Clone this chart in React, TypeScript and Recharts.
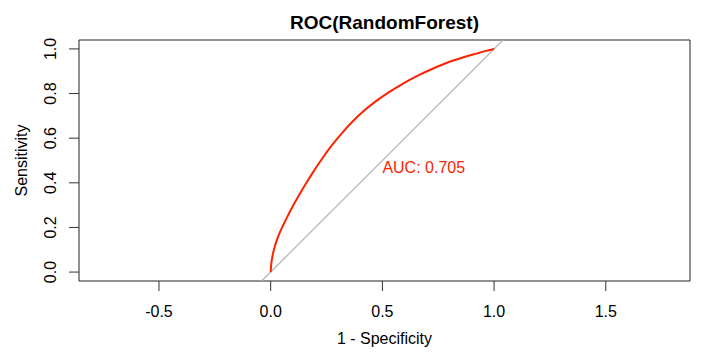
import { LineChart, Line, XAxis, YAxis, ReferenceArea, ReferenceDot } from "recharts";

// ROC curve points (1 - specificity, sensitivity)
const fpr = [0, 0.002, 0.006, 0.012, 0.02, 0.03, 0.042, 0.056, 0.072, 0.09, 0.11, 0.13, 0.16, 0.19, 0.23, 0.27, 0.32, 0.37, 0.42, 0.47, 0.52, 0.57, 0.62, 0.67, 0.72, 0.77, 0.82, 0.87, 0.92, 0.96, 1.0];
const tpr = [0, 0.03, 0.06, 0.09, 0.12, 0.15, 0.18, 0.21, 0.243, 0.278, 0.315, 0.35, 0.4, 0.448, 0.508, 0.563, 0.624, 0.678, 0.725, 0.765, 0.8, 0.831, 0.86, 0.886, 0.909, 0.93, 0.949, 0.965, 0.979, 0.99, 1.0];
const diagonal = [-0.04, 1.04];
const xTicks = [-0.5, 0, 0.5, 1, 1.5];
const yTicks = [0, 0.2, 0.4, 0.6, 0.8, 1];
const xDomain = [-0.858, 1.877];
const yDomain = [-0.04, 1.04];
const auc = "0.705";
const aucPos = [0.5, 0.5];

const rocData = fpr.map((x, i) => ({ x, y: tpr[i] }));
const diagData = diagonal.map(v => ({ x: v, y: v }));

const FONT = "'Liberation Sans', Arial, sans-serif";

const XTick = ({ x, y, payload }: any) => (
  <text x={x} y={y + 25.5} textAnchor="middle" fontSize={16} fontFamily={FONT} fill="#000">
    {payload.value.toFixed(1)}
  </text>
);

const YTick = ({ x, y, payload }: any) => (
  <text x={x - 12.5} y={y} textAnchor="middle" fontSize={16} fontFamily={FONT} fill="#000"
    transform={`rotate(-90, ${x - 12.5}, ${y})`}>
    {payload.value.toFixed(1)}
  </text>
);

export default function App() {
  return (
    <div style={{ position: "absolute", left: 0, top: 0, width: 727, height: 360, background: "#fff" }}>
      <svg width={727} height={40} style={{ position: "absolute", left: 0, top: 0 }}>
        <text x={384.5} y={28.5} textAnchor="middle" fontSize={19} fontWeight="bold" fontFamily={FONT} fill="#000">
          ROC(RandomForest)
        </text>
      </svg>
      <LineChart width={727} height={360} margin={{ top: 40, right: 37, left: 0, bottom: 0 }}>
        <XAxis
          type="number"
          dataKey="x"
          domain={xDomain}
          ticks={xTicks}
          allowDataOverflow
          height={79}
          tickSize={10}
          tickMargin={0}
          axisLine={false}
          tickLine={{ stroke: "#333" }}
          tick={<XTick />}
          label={{
            content: ({ viewBox }: any) => (
              <text x={viewBox.x + viewBox.width / 2} y={viewBox.y + 63} textAnchor="middle"
                fontSize={16} fontFamily={FONT} fill="#000">1 - Specificity</text>
            ),
          }}
        />
        <YAxis
          type="number"
          dataKey="y"
          domain={yDomain}
          ticks={yTicks}
          allowDataOverflow
          width={79}
          tickSize={10}
          tickMargin={0}
          axisLine={false}
          tickLine={{ stroke: "#333" }}
          tick={<YTick />}
          label={{
            content: ({ viewBox }: any) => {
              const cy = viewBox.y + viewBox.height / 2;
              return (
                <text x={26.5} y={cy} textAnchor="middle" fontSize={16} fontFamily={FONT} fill="#000"
                  transform={`rotate(-90, 26.5, ${cy})`}>Sensitivity</text>
              );
            },
          }}
        />
        <ReferenceArea x1={xDomain[0]} x2={xDomain[1]} y1={yDomain[0]} y2={yDomain[1]}
          fill="none" stroke="#222" strokeWidth={1} ifOverflow="visible" />
        <Line data={diagData} dataKey="y" stroke="#b4b4b4" strokeWidth={1.2} dot={false}
          isAnimationActive={false} />
        <Line data={rocData} dataKey="y" type="monotone" stroke="#ff2200" strokeWidth={2} dot={false}
          isAnimationActive={false} />
        <ReferenceDot x={aucPos[0]} y={aucPos[1]} r={1} fill="none" stroke="none"
          label={{
            content: ({ viewBox }: any) => (
              <text x={viewBox.x + 1} y={viewBox.y + 1 + 12} fontSize={16} fontFamily={FONT} fill="#ff2200">
                AUC: {auc}
              </text>
            ),
          }}
        />
      </LineChart>
    </div>
  );
}
